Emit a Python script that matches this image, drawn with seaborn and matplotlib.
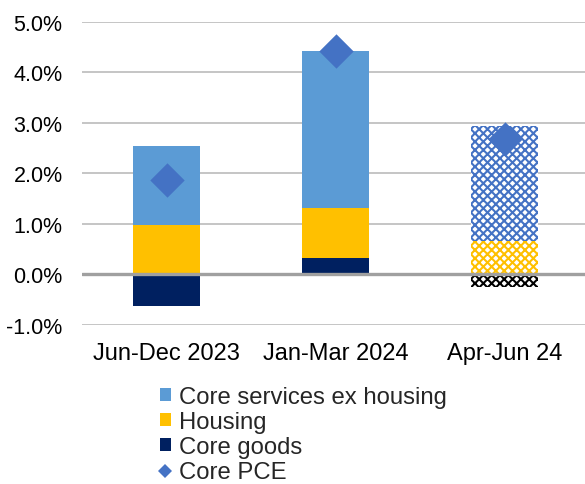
import matplotlib
matplotlib.use("Agg")
import matplotlib.pyplot as plt
from matplotlib.patches import Patch
from matplotlib.lines import Line2D
from matplotlib.ticker import FuncFormatter
import numpy as np
import seaborn as sns

# Contributions to core PCE inflation (annualised, percentage points)
periods = ["Jun-Dec 2023", "Jan-Mar 2024", "Apr-Jun 24"]
core_services_ex_housing = [1.57, 3.10, 2.26]
housing = [0.97, 1.00, 0.67]
core_goods = [-0.62, 0.32, -0.24]
core_pce = [1.87, 4.42, 2.68]
y_ticks = [-1, 0, 1, 2, 3, 4, 5]

C_SERV = "#5B9BD5"
C_HOUS = "#FFC000"
C_GOOD = "#002060"
C_PCE = "#4472C4"

sns.set_theme(style="white")
plt.rcParams["font.family"] = ["Liberation Sans", "DejaVu Sans"]
plt.rcParams["hatch.linewidth"] = 1.5

fig = plt.figure(figsize=(5.85, 4.85), dpi=100)
ax = fig.add_axes([82 / 585, 1 - 326 / 485, 1 - 82 / 585, (326 - 22.7) / 485])

goods = np.array(core_goods)
base_h = np.clip(goods, 0, None)
base_s = base_h + np.array(housing)

layers = [
    (core_goods, np.zeros(3), C_GOOD, "#000000"),
    (housing, base_h, C_HOUS, C_HOUS),
    (core_services_ex_housing, base_s, C_SERV, C_PCE),
]
for vals, bottom, col, hatch_col in layers:
    sns.barplot(x=periods, y=vals, bottom=bottom, color=col, width=0.4,
                saturation=1, linewidth=0, ax=ax, zorder=2)
    bar = ax.containers[-1][2]
    # latest period is provisional: shown with a patterned fill
    bar.set_facecolor("white")
    bar.set_edgecolor(hatch_col)
    bar.set_hatch("xxxx")
    bar.set_linewidth(0)

sns.stripplot(x=periods, y=core_pce, jitter=False, marker="D", size=17.5,
              color=C_PCE, linewidth=0, ax=ax, zorder=4)

ax.set_xlim(-0.5, 2.476)
ax.set_ylim(-1, 5)
ax.set_yticks(y_ticks)
ax.yaxis.set_major_formatter(FuncFormatter(lambda v, p: f"{v:.1f}%"))
ax.grid(axis="y", color="#C0C0C0", linewidth=1.3, zorder=0)
ax.grid(axis="x", visible=False)
ax.set_axisbelow(True)
ax.axhline(0, color="#A0A0A0", linewidth=2.4, zorder=3)
for s in ax.spines.values():
    s.set_visible(False)
ax.tick_params(axis="y", length=0, pad=14, labelsize=15.5, labelcolor="black")
ax.tick_params(axis="x", length=0, pad=12, labelsize=17, labelcolor="black")
ax.set_xlabel("")
ax.set_ylabel("")

handles = [
    Patch(facecolor=C_SERV, edgecolor="none"),
    Patch(facecolor=C_HOUS, edgecolor="none"),
    Patch(facecolor=C_GOOD, edgecolor="none"),
    Line2D([], [], linestyle="none", marker="D", markersize=7.6,
           color=C_PCE, markeredgewidth=0),
]
labels = ["Core services ex housing", "Housing", "Core goods", "Core PCE"]
fig.legend(handles, labels, loc="upper left",
           bbox_to_anchor=(160 / 585, 1 - 387 / 485), frameon=False,
           fontsize=17.2, handlelength=0.45, handleheight=0.45,
           handletextpad=0.35, labelspacing=0.13, borderpad=0,
           borderaxespad=0)

fig.savefig("out.png", dpi=100)
